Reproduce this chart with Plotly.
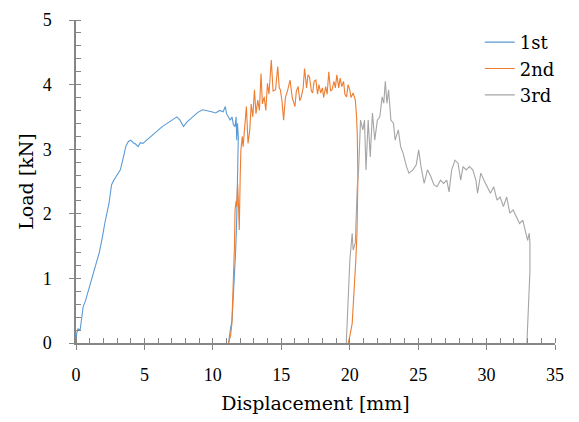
import plotly.graph_objects as go

# load-displacement curves
x_1st = [0, 0.05, 0.15, 0.3, 0.4, 0.52, 0.7, 0.99, 1.2, 1.47, 1.7, 1.94, 2.1, 2.41, 2.6, 2.76,
         3.0, 3.24, 3.47, 3.65, 3.83, 4.0, 4.18, 4.35, 4.54, 4.7, 4.89, 5.2, 5.5, 5.72, 6.0,
         6.3, 6.66, 7.0, 7.37, 7.6, 7.85, 8.1, 8.55, 8.9, 9.26, 9.6, 9.9, 10.2, 10.5, 10.75,
         10.91, 11.0, 11.27, 11.4, 11.5, 11.62, 11.7, 11.74, 11.8, 11.86, 11.84, 11.81, 11.74,
         11.67, 11.58, 11.5, 11.4, 11.27, 11.2, 11.15]
y_1st = [0, 0.15, 0.22, 0.2, 0.36, 0.56, 0.66, 0.87, 1.0, 1.23, 1.4, 1.65, 1.85, 2.16, 2.45, 2.52,
         2.6, 2.68, 2.88, 3.05, 3.12, 3.14, 3.1, 3.08, 3.04, 3.1, 3.09, 3.15, 3.2, 3.25, 3.3,
         3.35, 3.4, 3.45, 3.5, 3.45, 3.35, 3.42, 3.5, 3.57, 3.61, 3.6, 3.58, 3.56, 3.6, 3.58,
         3.66, 3.55, 3.45, 3.5, 3.38, 3.35, 3.5, 3.14, 3.4, 3.19, 2.8, 2.47, 1.9,
         1.44, 1.0, 0.61, 0.35, 0.2, 0.08, 0]

x_2nd = [11.15, 11.3, 11.39, 11.5, 11.58, 11.62, 11.7, 11.74, 11.81, 11.88, 11.93, 12.0, 12.05,
         12.15, 12.21, 12.33, 12.45, 12.57, 12.7, 12.8, 12.92, 13.04, 13.15, 13.28, 13.4, 13.52,
         13.62, 13.75, 13.87, 13.99, 14.1, 14.27, 14.4, 14.58, 14.74, 14.85, 14.93, 15.05, 15.17,
         15.3, 15.45, 15.64, 15.8, 16.0, 16.1, 16.23, 16.35, 16.46, 16.6, 16.7, 16.85, 16.95,
         17.06, 17.2, 17.29, 17.4, 17.53, 17.65, 17.75, 17.88, 18.0, 18.1, 18.24, 18.35, 18.47,
         18.6, 18.71, 18.85, 18.95, 19.06, 19.2, 19.3, 19.42, 19.55, 19.65, 19.77, 19.88, 20.0,
         20.1, 20.25, 20.41, 20.5, 20.55, 20.6, 20.58, 20.53, 20.45, 20.36, 20.25, 20.18, 20.0,
         19.89]
y_2nd = [0, 0.12, 0.3, 0.92, 1.5, 2.06, 2.2, 2.11, 2.47, 2.1, 1.75, 2.6, 2.99,
         3.2, 3.04, 3.35, 3.66, 3.09, 3.3, 3.7, 3.5, 3.92, 3.55, 3.76, 3.6, 4.17,
         3.7, 3.81, 3.6, 4.02, 3.85, 4.38, 3.9, 3.92, 4.28, 3.95, 3.92, 3.75, 3.45,
         3.8, 3.9, 4.07, 3.8, 3.66, 3.9, 3.97, 3.75, 3.81, 3.95, 4.25, 3.95, 4.15,
         4.12, 3.9, 3.87, 4.05, 4.07, 3.85, 4.0, 3.87, 3.95, 3.8, 3.97, 3.85, 4.2,
         3.9, 3.92, 4.05, 3.95, 4.15, 3.95, 4.1, 3.97, 4.05, 3.85, 3.81, 4.0, 3.92,
         3.8, 3.87, 3.76, 3.5, 3.25, 2.57, 2.1, 1.7, 1.3, 0.92, 0.55, 0.3, 0.1,
         0]

x_3rd = [19.75, 19.85, 19.94, 20.01, 20.18, 20.25, 20.41, 20.55, 20.65, 20.79, 20.96, 21.08,
         21.19, 21.35, 21.5, 21.66, 21.83, 22.02, 22.2, 22.37, 22.49, 22.6, 22.72, 22.84, 23.01,
         23.2, 23.32, 23.55, 23.72, 23.9, 24.15, 24.33, 24.62, 24.86, 25.04, 25.21, 25.44, 25.68,
         25.92, 26.15, 26.38, 26.63, 26.86, 27.09, 27.26, 27.45, 27.69, 27.92, 28.11, 28.28,
         28.51, 28.75, 28.99, 29.22, 29.34, 29.58, 29.81, 30.05, 30.28, 30.52, 30.76, 30.99,
         31.23, 31.47, 31.7, 31.94, 32.18, 32.41, 32.65, 32.84, 33.0, 33.12, 33.17, 33.17,
         33.07, 32.95]
y_3rd = [0, 0.5, 1.03, 1.28, 1.7, 1.44, 1.55, 2.42, 2.68, 3.45, 3.3, 3.45,
         2.68, 3.45, 2.88, 3.56, 3.14, 3.45, 3.5, 3.81, 3.71, 4.05, 3.71, 3.92, 3.45,
         3.4, 3.14, 3.3, 3.04, 2.94, 2.73, 2.63, 2.68, 2.76, 2.99, 2.73, 2.47, 2.68,
         2.58, 2.45, 2.42, 2.52, 2.47, 2.52, 2.34, 2.68, 2.83, 2.78, 2.52, 2.73,
         2.68, 2.73, 2.68, 2.52, 2.32, 2.63, 2.52, 2.42, 2.32, 2.42, 2.21, 2.26,
         2.11, 2.26, 2.01, 2.06, 1.96, 1.85, 1.9, 1.75, 1.59, 1.7, 1.54, 1.13,
         0.61, 0]

serif = "DejaVu Serif"
tick_font = dict(family="Liberation Serif", size=18)
axis_col = "#868686"

fig = go.Figure()
fig.add_trace(go.Scatter(x=x_1st, y=y_1st, name="1st", mode="lines",
                         line=dict(color="#5B9BD5", width=1.1)))
fig.add_trace(go.Scatter(x=x_2nd, y=y_2nd, name="2nd", mode="lines",
                         line=dict(color="#ED7D31", width=1.1)))
fig.add_trace(go.Scatter(x=x_3rd, y=y_3rd, name="3rd", mode="lines",
                         line=dict(color="#A5A5A5", width=1.1)))

# page body has an 8px margin; keep the figure small enough that no scrollbar appears
fig.update_layout(
    width=563, height=406,
    margin=dict(l=68, r=11, t=12, b=71),
    plot_bgcolor="white", paper_bgcolor="white",
    font=dict(family=serif, size=17, color="black"),
    legend=dict(x=1.01, y=0.988, xanchor="right", yanchor="top",
                font=dict(size=18), itemwidth=30, tracegroupgap=0,
                bgcolor="rgba(0,0,0,0)"),
)
fig.update_xaxes(range=[0, 35], dtick=5, showgrid=False, zeroline=False, automargin=False,
                 showline=True, linecolor=axis_col, linewidth=1.5, ticklabeloverflow="allow",
                 ticks="outside", ticklen=5, tickcolor=axis_col, ticklabelstandoff=10,
                 tickfont=tick_font,
                 minor=dict(dtick=1, ticks="inside", ticklen=5, tickcolor=axis_col),
                 title=dict(text="Displacement [mm]", font=dict(size=19), standoff=12))
fig.update_yaxes(range=[0, 5], dtick=1, showgrid=False, zeroline=False, automargin=False,
                 showline=True, linecolor=axis_col, linewidth=1.5,
                 ticks="outside", ticklen=5, tickcolor=axis_col, ticklabelstandoff=14,
                 tickfont=tick_font,
                 minor=dict(dtick=0.2, ticks="inside", ticklen=5, tickcolor=axis_col),
                 title=dict(text="Load [kN]", font=dict(size=19), standoff=4))

fig.write_html("out.html")
